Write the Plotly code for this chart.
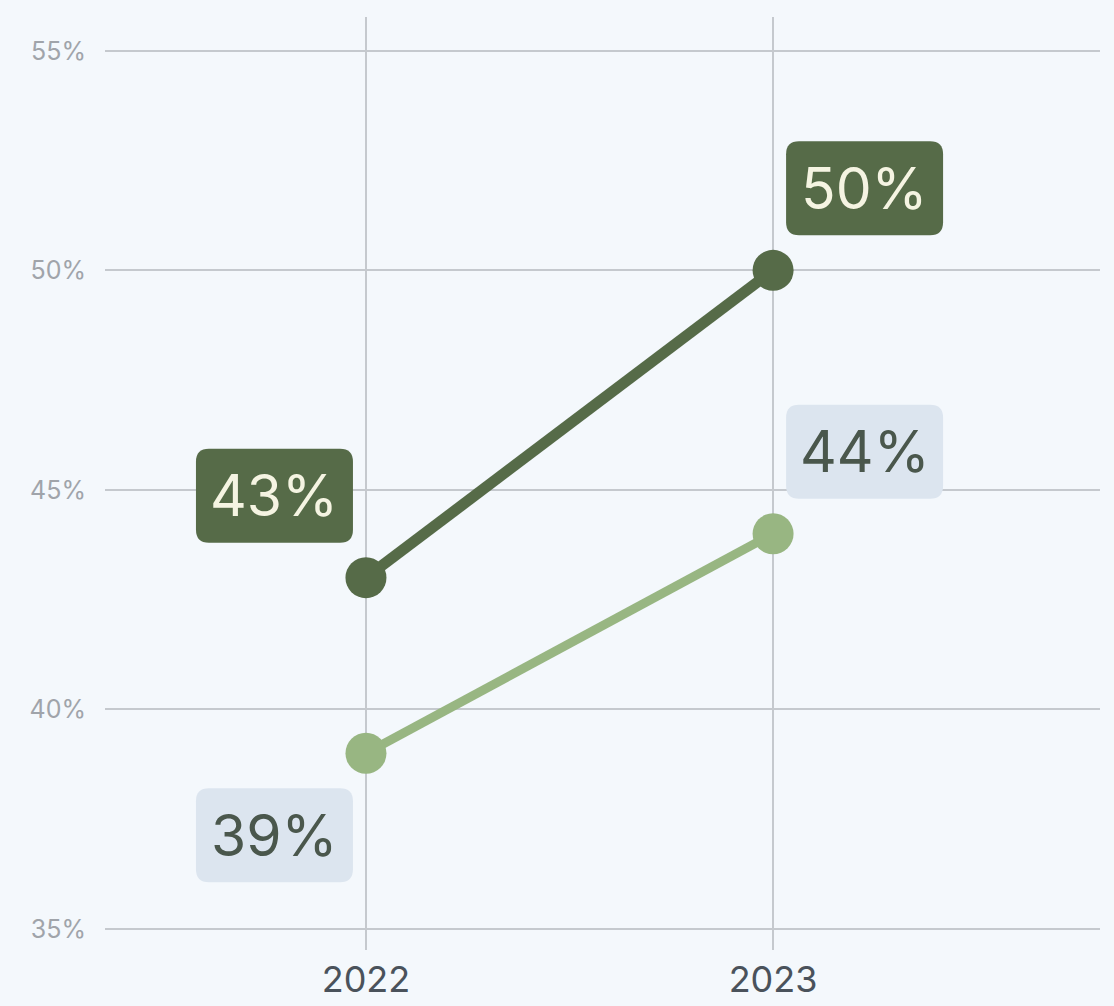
import plotly.graph_objects as go

# Share values by year
years = [2022, 2023]
share_primary = [43, 50]
share_secondary = [39, 44]
tick_values = [35, 40, 45, 50, 55]
tick_labels = ["35%", "40%", "45%", "50%", "55%"]

BG = "#f4f8fc"
GRID = "#c5c9ce"
DARK = "#566b48"
LIGHT = "#98b682"
DARK_TEXT = "#f5f4e2"
LIGHT_BOX = "#dce5ef"
LIGHT_TEXT = "#4a574c"

LABEL_FONT = "Inter, Roboto, sans-serif"


def rounded_box(x0, y0, x1, y1, r):
    """SVG path of a rounded rectangle, in pixel offsets."""
    lo_y, hi_y = min(y0, y1), max(y0, y1)
    return (
        f"M{x0 + r},{lo_y} L{x1 - r},{lo_y} Q{x1},{lo_y} {x1},{lo_y + r} "
        f"L{x1},{hi_y - r} Q{x1},{hi_y} {x1 - r},{hi_y} "
        f"L{x0 + r},{hi_y} Q{x0},{hi_y} {x0},{hi_y - r} "
        f"L{x0},{lo_y + r} Q{x0},{lo_y} {x0 + r},{lo_y} Z"
    )


fig = go.Figure()

fig.add_trace(go.Scatter(
    x=years, y=share_secondary, mode="lines+markers",
    line=dict(color=LIGHT, width=9),
    marker=dict(color=LIGHT, size=41),
    hoverinfo="skip", showlegend=False,
))
fig.add_trace(go.Scatter(
    x=years, y=share_primary, mode="lines+markers",
    line=dict(color=DARK, width=11),
    marker=dict(color=DARK, size=41),
    hoverinfo="skip", showlegend=False,
))

# Value badges: (series, fill, text colour, horizontal side, vertical side)
badge_specs = [
    (share_primary, DARK, DARK_TEXT, [-1, 1], [1, 1]),
    (share_secondary, LIGHT_BOX, LIGHT_TEXT, [-1, 1], [-1, 1]),
]

BOX_NEAR_X, BOX_FAR_X = 13, 170
BOX_NEAR_Y, BOX_FAR_Y = 35, 129

for values, fill, txt, hsides, vsides in badge_specs:
    for yr, val, hs, vs in zip(years, values, hsides, vsides):
        xa, xb = sorted([hs * BOX_NEAR_X, hs * BOX_FAR_X])
        ya, yb = sorted([vs * BOX_NEAR_Y, vs * BOX_FAR_Y])
        fig.add_shape(
            type="path", xref="x", yref="y",
            xsizemode="pixel", ysizemode="pixel",
            xanchor=yr, yanchor=val,
            path=rounded_box(xa, ya, xb, yb, 13),
            fillcolor=fill, line=dict(width=0), layer="between",
        )
        fig.add_annotation(
            x=yr, y=val, text=f"{val}%", showarrow=False,
            xshift=(xa + xb) / 2, yshift=(ya + yb) / 2,
            font=dict(family=LABEL_FONT, size=57, color=txt),
        )

fig.update_layout(
    width=1114, height=1006,
    margin=dict(l=105, r=14, t=17, b=56),
    paper_bgcolor=BG, plot_bgcolor=BG,
    showlegend=False,
)
fig.update_xaxes(
    range=[2021.359, 2023.803],
    tickvals=years, ticktext=[str(y) for y in years],
    showgrid=True, gridcolor=GRID, gridwidth=2,
    zeroline=False, showline=False, ticks="",
    ticklabelstandoff=5, automargin=False,
    tickfont=dict(family=LABEL_FONT, size=36, color="#4a525b"),
)
fig.update_yaxes(
    range=[34.52, 55.77],
    tickvals=tick_values, ticktext=tick_labels,
    showgrid=True, gridcolor=GRID, gridwidth=2,
    zeroline=False, showline=False, ticks="",
    ticklabelstandoff=18, automargin=False,
    tickfont=dict(family=LABEL_FONT, size=25, color="#a0a4aa"),
)

fig.write_html("out.html")
